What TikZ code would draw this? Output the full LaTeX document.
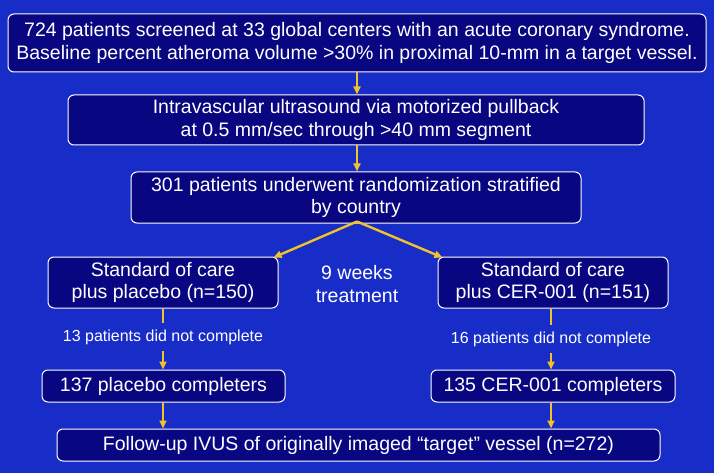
\documentclass[tikz,border=0pt]{standalone}
\usepackage{fontspec}
\setmainfont{Liberation Sans}
\usetikzlibrary{arrows.meta, positioning, calc}
\definecolor{slideblue}{RGB}{24,44,200}
\definecolor{boxnavy}{RGB}{8,6,128}
\definecolor{arrowgold}{RGB}{240,196,40}

\begin{document}
\begin{tikzpicture}[
        x=1pt, y=-1pt,
        box/.style={rectangle, draw=white, fill=boxnavy, line width=1pt, rounded corners=6pt, text=white, align=center, inner sep=2pt, font=\fontsize{19.5}{22.5}\selectfont},
        note/.style={text=white, align=center, inner sep=1pt},
        drop/.style={note, inner sep=0pt, minimum height=27pt, font=\fontsize{16}{18}\selectfont},
        arrow/.style={-{Triangle[width=7pt,length=8pt]}, draw=arrowgold, line width=2.4pt},
        line/.style={draw=arrowgold, line width=2.4pt}
    ]
    \fill[slideblue] (0,0) rectangle (714,473);
    \useasboundingbox (0,0) rectangle (714,473);

    \node[box, minimum width=698pt, minimum height=58pt] (screen) at (357,43) {724 patients screened at 33 global centers with an acute coronary syndrome.\\Baseline percent atheroma volume >30\% in proximal 10-mm in a target vessel.};
    \node[box, minimum width=576pt, minimum height=50pt] (ivus) at (356,120) {Intravascular ultrasound via motorized pullback\\at 0.5 mm/sec through >40 mm segment};
    \node[box, minimum width=450pt, minimum height=51pt] (random) at (356,197.5) {301 patients underwent randomization stratified\\by country};

    \node[box, minimum width=230pt, minimum height=51pt] (placebo) at (163,282.5) {Standard of care\\plus placebo (n=150)};
    \node[box, minimum width=230pt, minimum height=51pt] (cer) at (553,282.5) {Standard of care\\plus CER-001 (n=151)};
    \node[note, font=\fontsize{19.5}{22.5}\selectfont] (weeks) at (357,284) {9 weeks\\treatment};

    \node[drop] (dropplacebo) at (163,337) {13 patients did not complete};
    \node[drop] (dropcer) at (551,339) {16 patients did not complete};

    \node[box, minimum width=243pt, minimum height=32pt] (compplacebo) at (163.5,386) {137 placebo completers};
    \node[box, minimum width=244pt, minimum height=32pt] (compcer) at (553,386) {135 CER-001 completers};
    \node[box, minimum width=603pt, minimum height=32pt] (followup) at (358.5,445) {Follow-up IVUS of originally imaged “target” vessel (n=272)};

    \draw[arrow] (screen.south -| 357,0) -- (ivus.north -| 357,0);
    \draw[arrow] (ivus.south -| 357,0) -- (random.north -| 357,0);
    \draw[arrow] ([yshift=2pt]random.south -| 357,0) -- ([xshift=-5pt,yshift=-1pt]placebo.north east);
    \draw[arrow] ([yshift=2pt]random.south -| 357,0) -- ([xshift=5pt,yshift=-1pt]cer.north west);

    \draw[line] (placebo.south) -- (dropplacebo.north);
    \draw[arrow] (dropplacebo.south) -- (compplacebo.north -| dropplacebo.south);
    \draw[line] (cer.south -| dropcer.north) -- (dropcer.north);
    \draw[arrow] (dropcer.south) -- (compcer.north -| dropcer.south);

    \draw[arrow] (compplacebo.south -| 163,0) -- (followup.north -| 163,0);
    \draw[arrow] (compcer.south -| 551,0) -- (followup.north -| 551,0);
\end{tikzpicture}
\end{document}
